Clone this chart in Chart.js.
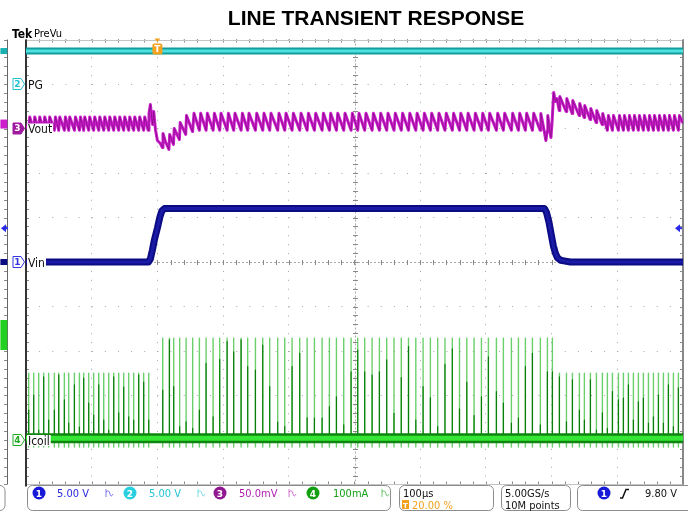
<!DOCTYPE html>
<html>
<head>
<meta charset="utf-8">
<title>Line transient response</title>
<script src="https://cdn.jsdelivr.net/npm/chart.js@4.4.1/dist/chart.umd.min.js"></script>
<style>
  html, body { margin: 0; padding: 0; background: #fff; }
  #wrap { width: 688px; height: 512px; position: relative; }
</style>
</head>
<body>
<div id="wrap"><canvas id="scope"></canvas></div>
<script>
// channel setup: marker position (div), value at the marker, units per division
const chNames = ['Vin', 'PG', 'Vout', 'Icoil'];
const chNumbers = [1, 2, 3, 4];
const chPosition = [0, 4, 3, -4];
const chOffset = [6, 0, 0, 0];
const chPerDiv = [5, 5, 50, 100];
const chScaleText = ['5.00 V', '5.00 V', '50.0mV', '100mA'];

const timePerDiv = 100;          // µs
const timeRange = [-200, 800];   // trigger at 20 %
const triggerLevel = 9.80;       // V, ch1 rising

// ch1 Vin (V)
const vinTime = [-200, -13.7, -10.7, -7.6, -4.6, 0, 3.8, 6.8, 10.7, 589.0, 592.1, 595.9, 599.7, 602.7, 605.8, 608.8, 613.4, 621, 628.6, 800];
const vinVolts = [6.0, 6.0, 6.34, 7.35, 8.47, 9.82, 11.06, 11.75, 12.0, 12.0, 11.6, 10.5, 9.0, 7.8, 7.0, 6.5, 6.2, 6.1, 6.0, 6.0];

// ch2 PG (V)
const pgTime = [-200, 800];
const pgVolts = [3.7, 3.7];

// ch4 Icoil switching pulses (µs) and their heights (mA)
const pulseTimePre = [-195.9, -188.3, -180.7, -173.1, -165.5, -156.8, -150.2, -141.6, -135.0, -126.3, -118.7, -112.2, -104.6, -97.0, -89.3, -81.7, -74.1, -66.5, -58.9, -51.3, -43.7, -36.1, -28.5, -20.9, -13.2];
const pulseTimeHigh = [8.1, 18.3, 24.8, 33.9, 43.7, 53.7, 63.9, 74.1, 84.8, 94.8, 106.1, 116.1, 127.4, 137.4, 149.2, 160.3, 170.9, 183.1, 193.8, 205.0, 216.6, 227.9, 239.0, 250.7, 261.8, 272.5, 283.6, 294.8, 304.9, 315.5, 326.8, 337.9, 349.0, 360.1, 371.2, 382.2, 393.3, 404.4, 415.5, 426.6, 437.7, 448.9, 459.8, 470.9, 482.0, 493.2, 503.8, 516.0, 526.6, 538.8, 549.5, 560.1, 570.8, 582.9, 593.6, 601.2];
const pulseTimePost = [611.9, 622.6, 631.7, 642.3, 649.9, 659.1, 668.2, 677.3, 684.9, 692.6, 701.7, 709.3, 716.9, 724.5, 732.1, 739.7, 747.4, 755.0, 762.6, 770.2, 777.8, 785.4, 793.0];
const pulsePeak = [150, 229, 150];
const pulseDarkPre = [67, 101, 22, 142, 45, 67, 146, 90, 38, 124, 29, 139, 83, 56, 124, 45, 22, 142, 61, 119, 52, 45, 146, 130, 45];
const pulseDarkHigh = [112, 225, 120, 30, 41, 26, 67, 172, 52, 181, 221, 198, 225, 165, 157, 213, 120, 40, 30, 165, 195, 50, 49, 49, 75, 97, 34, 153, 202, 153, 146, 153, 180, 60, 140, 210, 45, 120, 95, 30, 170, 205, 70, 130, 55, 97, 187, 109, 83, 38, 49, 165, 195, 34, 153, 153];
const pulseDarkPost = [142, 41, 135, 67, 45, 135, 22, 61, 26, 109, 90, 94, 124, 45, 86, 94, 38, 52, 101, 38, 124, 30, 117];
const icoilBase = 4;
const icoilUndershoot = -16;

// ch3 Vout ripple (mV): trough / crest per region, plus the two line steps
const rippleLow = [-2, -2, -2];
const rippleHigh = [13, 17, 14.5];
const rippleRise = [1.6, 2.0, 1.6];
const voutEdges = [5, 6];
const voutRiseTime = [-14.0, -12.8, -10.7, -8.7, -7.2, -5.6, -3.0, 0, 4.6, 7.6, 8.5, 12.2, 17.5, 18.7, 24.4, 25.6, 33.5, 34.7, 43.1, 44.3, 53.3];
const voutRiseMv = [-2, 16.9, 27.0, 12.4, 4.5, 19.1, -1.1, -13.5, -16.9, -21.3, -5.6, -14.6, -23.6, -6.7, -18.0, 0, -12.4, 6.7, -6.7, 14.6, -3.4];
const voutFallTime = [582.5, 583.6, 587.5, 591.3, 593.2, 594.2, 596.7, 599.0, 600.5, 603.2, 605.8, 608.1, 611.6, 612.5, 622.1, 623.1, 631.2, 632.2, 641.9, 642.8, 649.5, 650.4, 658.6, 659.6, 667.7, 668.7, 676.9, 677.8, 684.5];
const voutFallMv = [-2, 16.9, 2.2, -13.5, -3.4, 14.6, 0, -10.1, 4.5, 40.4, 30.3, 33.7, 20.2, 36.0, 19.1, 33.7, 16.9, 31.5, 14.6, 28.1, 12.4, 25.8, 10.1, 22.5, 6.7, 20.2, 4.5, 16.9, -1.1];

// history strip left of the graticule
const stripTime = [-239, -228.5];
const stripValues = [6.0, 3.7, 5, 236];

const toDiv = (ch, v) => chPosition[ch] + (v - chOffset[ch]) / chPerDiv[ch];
const pts = (ch, xs, ys) => xs.map((t, i) => ({ x: t, y: toDiv(ch, ys[i]) }));

// build Icoil spikes
const pulseRegions = [
  { t: pulseTimePre, dark: pulseDarkPre, peak: pulsePeak[0], lo: rippleLow[0], hi: rippleHigh[0], rise: rippleRise[0] },
  { t: pulseTimeHigh, dark: pulseDarkHigh, peak: pulsePeak[1], lo: rippleLow[1], hi: rippleHigh[1], rise: rippleRise[1] },
  { t: pulseTimePost, dark: pulseDarkPost, peak: pulsePeak[2], lo: rippleLow[2], hi: rippleHigh[2], rise: rippleRise[2] }
];
const spikeLight = [], spikeDark = [];
pulseRegions.forEach(r => r.t.forEach((t, i) => {
  spikeLight.push({ x: t, y: toDiv(3, icoilBase) }, { x: t, y: toDiv(3, r.peak) },
                  { x: t, y: toDiv(3, icoilUndershoot) }, { x: t, y: toDiv(3, icoilBase) });
  spikeDark.push({ x: t, y: toDiv(3, icoilBase) }, { x: t, y: toDiv(3, r.dark[i]) }, { x: t, y: toDiv(3, icoilBase) });
}));

// build Vout: one sawtooth per pulse, step transients from their own lists
const inStep = t => (t >= voutRiseTime[0] && t <= voutRiseTime[voutRiseTime.length - 1]) ||
                    (t >= voutFallTime[0] && t <= voutFallTime[voutFallTime.length - 1]);
let voutPts = [{ x: timeRange[0], y: voutEdges[0] }, { x: timeRange[1], y: voutEdges[1] }];
pulseRegions.forEach(r => r.t.forEach(t => {
  if (!inStep(t)) voutPts.push({ x: t, y: r.lo }, { x: t + r.rise, y: r.hi });
}));
voutRiseTime.forEach((t, i) => voutPts.push({ x: t, y: voutRiseMv[i] }));
voutFallTime.forEach((t, i) => voutPts.push({ x: t, y: voutFallMv[i] }));
voutPts.sort((a, b) => a.x - b.x);
voutPts = voutPts.map(p => ({ x: p.x, y: toDiv(2, p.y) }));

const uiFont = "'DejaVu Sans Condensed', 'DejaVu Sans', sans-serif";

function trace(data, color, width, order, extra) {
  return Object.assign({ data, borderColor: color, borderWidth: width, pointRadius: 0,
    tension: 0, fill: false, order, borderJoinStyle: 'round', borderCapStyle: 'butt' }, extra || {});
}

const graticule = {
  id: 'graticule',
  beforeDatasetsDraw(chart) {
    const { ctx, chartArea: a, scales: { x, y } } = chart;
    const mx = (x.getPixelForValue(timePerDiv) - x.getPixelForValue(0)) / 5;
    const my = (y.getPixelForValue(0) - y.getPixelForValue(1)) / 5;
    const cx = Math.round(x.getPixelForValue((timeRange[0] + timeRange[1]) / 2)) + 0.5;
    const cy = Math.round(y.getPixelForValue(0)) + 0.5;
    ctx.save();
    ctx.strokeStyle = '#a8a8a8';
    ctx.lineWidth = 1;
    ctx.setLineDash([2, 2]);
    ctx.beginPath();
    ctx.moveTo(a.left, cy); ctx.lineTo(a.right, cy);
    ctx.moveTo(cx, a.top); ctx.lineTo(cx, a.bottom);
    ctx.stroke();
    ctx.setLineDash([]);
    ctx.strokeStyle = '#8a8a8a';
    ctx.beginPath();
    for (let px = a.left; px <= a.right + 0.5; px += mx) {
      const p = Math.round(px) + 0.5;
      ctx.moveTo(p, cy - 2.5); ctx.lineTo(p, cy + 2.5);
      ctx.moveTo(p, a.top); ctx.lineTo(p, a.top + 3);
      ctx.moveTo(p, a.bottom); ctx.lineTo(p, a.bottom - 3);
    }
    for (let py = a.top; py <= a.bottom + 0.5; py += my) {
      const p = Math.round(py) + 0.5;
      ctx.moveTo(cx - 2.5, p); ctx.lineTo(cx + 2.5, p);
      ctx.moveTo(a.left, p); ctx.lineTo(a.left + 3, p);
      ctx.moveTo(a.right, p); ctx.lineTo(a.right - 3, p);
      ctx.moveTo(a.left - 19, p); ctx.lineTo(a.left - 22, p);
    }
    ctx.stroke();
    // frame
    ctx.strokeStyle = '#c4c4c4';
    ctx.beginPath();
    ctx.moveTo(a.left, Math.round(a.top) + 0.5); ctx.lineTo(a.right, Math.round(a.top) + 0.5);
    ctx.moveTo(a.left, Math.round(a.bottom) - 0.5); ctx.lineTo(a.right, Math.round(a.bottom) - 0.5);
    ctx.stroke();
    ctx.lineWidth = 2;
    ctx.strokeStyle = '#333';
    ctx.beginPath(); ctx.moveTo(a.left, a.top); ctx.lineTo(a.left, a.bottom + 2); ctx.stroke();
    ctx.strokeStyle = '#888';
    ctx.beginPath(); ctx.moveTo(a.right, a.top); ctx.lineTo(a.right, a.bottom); ctx.stroke();
    ctx.lineWidth = 1;
    ctx.strokeStyle = '#666';
    ctx.beginPath(); ctx.moveTo(a.left - 18.5, a.top); ctx.lineTo(a.left - 18.5, a.bottom); ctx.stroke();
    ctx.restore();
  }
};

function chMarker(ctx, left, yc, n, color, filled) {
  const x0 = left - 13, x1 = left - 5, tip = left - 1.5, h = 5.5;
  ctx.beginPath();
  ctx.moveTo(x0, yc - h); ctx.lineTo(x1, yc - h); ctx.lineTo(tip, yc);
  ctx.lineTo(x1, yc + h); ctx.lineTo(x0, yc + h); ctx.closePath();
  ctx.fillStyle = filled ? color : '#fff';
  ctx.fill();
  ctx.lineWidth = 1;
  ctx.strokeStyle = color;
  ctx.stroke();
  ctx.fillStyle = filled ? '#fff' : color;
  ctx.font = "bold 9px 'DejaVu Sans', sans-serif";
  ctx.textAlign = 'center';
  ctx.textBaseline = 'middle';
  ctx.fillText(String(n), x0 + 4.5, yc + 0.5);
}

function triangleLeft(ctx, tipX, yc, color) {
  ctx.fillStyle = color;
  ctx.beginPath();
  ctx.moveTo(tipX, yc); ctx.lineTo(tipX + 5, yc - 4); ctx.lineTo(tipX + 5, yc + 4); ctx.closePath();
  ctx.fill();
  ctx.fillRect(tipX + 4, yc - 1, 3, 2);
}

const markerColors = ['#3434e0', '#22c0d0', '#a01aa0', '#22a822'];
const markerFilled = [false, false, true, false];
const statusColors = ['#2a2ae0', '#22c4d4', '#b01cb0', '#15a015'];
const circleColors = ['#1818d8', '#28cfe0', '#901890', '#12a012'];

const overlay = {
  id: 'overlay',
  afterDatasetsDraw(chart) {
    const { ctx, chartArea: a, scales: { x, y } } = chart;
    ctx.save();
    // channel labels with their reference markers
    const order = [1, 2, 0, 3];
    order.forEach(ch => {
      const yc = y.getPixelForValue(chPosition[ch]);
      ctx.font = '12px ' + uiFont;
      const w = ctx.measureText(chNames[ch]).width;
      ctx.fillStyle = '#fff';
      ctx.fillRect(a.left + 1, yc - 5, w + 2, 11);
      ctx.fillStyle = '#111';
      ctx.textAlign = 'left';
      ctx.textBaseline = 'alphabetic';
      ctx.fillText(chNames[ch], a.left + 2, yc + 4.5);
      chMarker(ctx, a.left, yc, chNumbers[ch], markerColors[ch], markerFilled[ch]);
    });
    // trigger position
    const tx = x.getPixelForValue(0);
    ctx.fillStyle = '#f2a21e';
    ctx.beginPath();
    ctx.moveTo(tx - 3, a.top - 1); ctx.lineTo(tx + 3, a.top - 1); ctx.lineTo(tx, a.top + 2.5); ctx.closePath();
    ctx.fill();
    ctx.beginPath();
    ctx.roundRect(tx - 5, a.top + 4, 10, 11, 2);
    ctx.fill();
    ctx.fillStyle = '#fff';
    ctx.font = "bold 9px 'DejaVu Sans', sans-serif";
    ctx.textAlign = 'center';
    ctx.textBaseline = 'middle';
    ctx.fillText('T', tx, a.top + 10);
    // trigger level
    const ty = y.getPixelForValue(toDiv(0, triggerLevel));
    triangleLeft(ctx, a.right - 8, ty, '#2a2ae8');
    triangleLeft(ctx, a.left - 25, ty, '#2a2ae8');
    ctx.restore();
  },
  afterDraw(chart) {
    const { ctx } = chart;
    ctx.save();
    // title
    ctx.fillStyle = '#000';
    ctx.font = "bold 21px 'Liberation Sans', Arial, sans-serif";
    ctx.textAlign = 'center';
    ctx.textBaseline = 'alphabetic';
    ctx.fillText('LINE TRANSIENT RESPONSE', 376, 25);
    ctx.textAlign = 'left';
    ctx.font = 'bold 12px ' + uiFont;
    ctx.fillText('Tek', 12, 38);
    ctx.font = '11px ' + uiFont;
    ctx.fillText('PreVu', 34, 37);

    // status readouts
    ctx.strokeStyle = '#8c8c8c';
    ctx.lineWidth = 1;
    [[-20, 25], [27.5, 363], [399.5, 94], [501.5, 69], [577.5, 120]].forEach(([bx, bw]) => {
      ctx.beginPath();
      ctx.roundRect(bx, 485.5, bw, 25, 5);
      ctx.stroke();
    });
    const circleX = [39, 130, 220, 313];
    const textX = [57, 149, 239, 333];
    const iconX = [109, 201, 292, 385];
    [0, 1, 2, 3].forEach(ch => {
      ctx.fillStyle = circleColors[ch];
      ctx.beginPath(); ctx.arc(circleX[ch], 493, 6.5, 0, Math.PI * 2); ctx.fill();
      ctx.fillStyle = '#fff';
      ctx.font = "bold 9px 'DejaVu Sans', sans-serif";
      ctx.textAlign = 'center';
      ctx.fillText(String(chNumbers[ch]), circleX[ch], 496.5);
      ctx.fillStyle = statusColors[ch];
      ctx.font = '11px ' + uiFont;
      ctx.textAlign = 'left';
      ctx.fillText(chScaleText[ch], textX[ch], 497);
      // bandwidth-limit glyph
      ctx.strokeStyle = statusColors[ch];
      ctx.globalAlpha = 0.6;
      ctx.lineWidth = 1;
      const ix = iconX[ch];
      ctx.beginPath();
      ctx.moveTo(ix - 3, 489); ctx.lineTo(ix - 3, 497);
      ctx.moveTo(ix - 3, 492); ctx.quadraticCurveTo(ix, 489, ix + 1, 494);
      ctx.quadraticCurveTo(ix + 2, 498, ix + 4, 494);
      ctx.stroke();
      ctx.globalAlpha = 1;
    });
    ctx.fillStyle = '#111';
    ctx.font = '11px ' + uiFont;
    ctx.fillText('100µs', 403, 497);
    ctx.fillText('5.00GS/s', 505, 497);
    ctx.fillText('10M points', 505, 509);
    ctx.fillStyle = '#f2a21e';
    ctx.fillRect(402, 500, 7, 9);
    ctx.fillStyle = '#fff';
    ctx.font = "bold 7px 'DejaVu Sans', sans-serif";
    ctx.textAlign = 'center';
    ctx.fillText('T', 405.5, 507.5);
    ctx.fillStyle = '#f2a21e';
    ctx.font = '11px ' + uiFont;
    ctx.textAlign = 'left';
    ctx.fillText('20.00 %', 412, 509);
    // trigger readout
    ctx.fillStyle = circleColors[0];
    ctx.beginPath(); ctx.arc(604, 493, 6.5, 0, Math.PI * 2); ctx.fill();
    ctx.fillStyle = '#fff';
    ctx.font = "bold 9px 'DejaVu Sans', sans-serif";
    ctx.textAlign = 'center';
    ctx.fillText('1', 604, 496.5);
    ctx.strokeStyle = '#111';
    ctx.lineWidth = 1.5;
    ctx.beginPath();
    ctx.moveTo(620, 498); ctx.lineTo(622.5, 498); ctx.lineTo(626, 489.5); ctx.lineTo(629, 489.5);
    ctx.stroke();
    ctx.fillStyle = '#111';
    ctx.font = '11px ' + uiFont;
    ctx.textAlign = 'left';
    ctx.fillText(triggerLevel.toFixed(2) + ' V', 645, 497);
    ctx.restore();
  }
};

new Chart(document.getElementById('scope'), {
  type: 'line',
  data: {
    datasets: [
      trace(voutPts, 'rgba(100,0,100,0.5)', 1, 1),
      trace(voutPts, '#cc1ecc', 3, 2),
      trace(pts(1, pgTime, pgVolts), '#4fe0e0', 3, 3),
      trace(pts(1, pgTime, pgVolts), '#129c9c', 7, 4),
      trace(pts(0, vinTime, vinVolts), '#1a1aa6', 3, 5),
      trace(pts(0, vinTime, vinVolts), '#0b0b84', 7, 6),
      trace(pts(3, timeRange, [icoilBase, icoilBase]), '#35e635', 5, 7),
      trace(pts(3, timeRange, [icoilBase, icoilBase]), '#0e850e', 10, 8),
      trace(spikeDark, '#0a7d0a', 1.2, 9),
      trace(spikeLight, 'rgba(70,195,70,0.8)', 1.4, 10),
      // history strip
      trace(pts(0, stripTime, [stripValues[0], stripValues[0]]), '#0b0b84', 6, 11, { clip: false }),
      trace(pts(1, stripTime, [stripValues[1], stripValues[1]]), '#18b0b0', 6, 11, { clip: false }),
      trace(pts(2, stripTime, [stripValues[2], stripValues[2]]), '#cc1ecc', 9, 11, { clip: false }),
      trace(pts(3, stripTime, [stripValues[3], stripValues[3]]), '#22d022', 30, 11, { clip: false })
    ]
  },
  options: {
    responsive: true,
    maintainAspectRatio: false,
    animation: false,
    devicePixelRatio: 1,
    layout: { padding: { left: 26, right: 5, top: 39.5, bottom: 27.5 } },
    plugins: { legend: { display: false }, tooltip: { enabled: false }, title: { display: false } },
    scales: {
      x: {
        type: 'linear', min: timeRange[0], max: timeRange[1],
        ticks: { display: false, stepSize: timePerDiv },
        grid: { color: '#a4a4a4', lineWidth: 1, drawTicks: false },
        border: { display: false, dash: [1, 7.9] }
      },
      y: {
        min: -5, max: 5,
        ticks: { display: false, stepSize: 1 },
        grid: { color: '#a4a4a4', lineWidth: 1, drawTicks: false },
        border: { display: false, dash: [1, 12.14] }
      }
    }
  },
  plugins: [graticule, overlay]
});
</script>
</body>
</html>
